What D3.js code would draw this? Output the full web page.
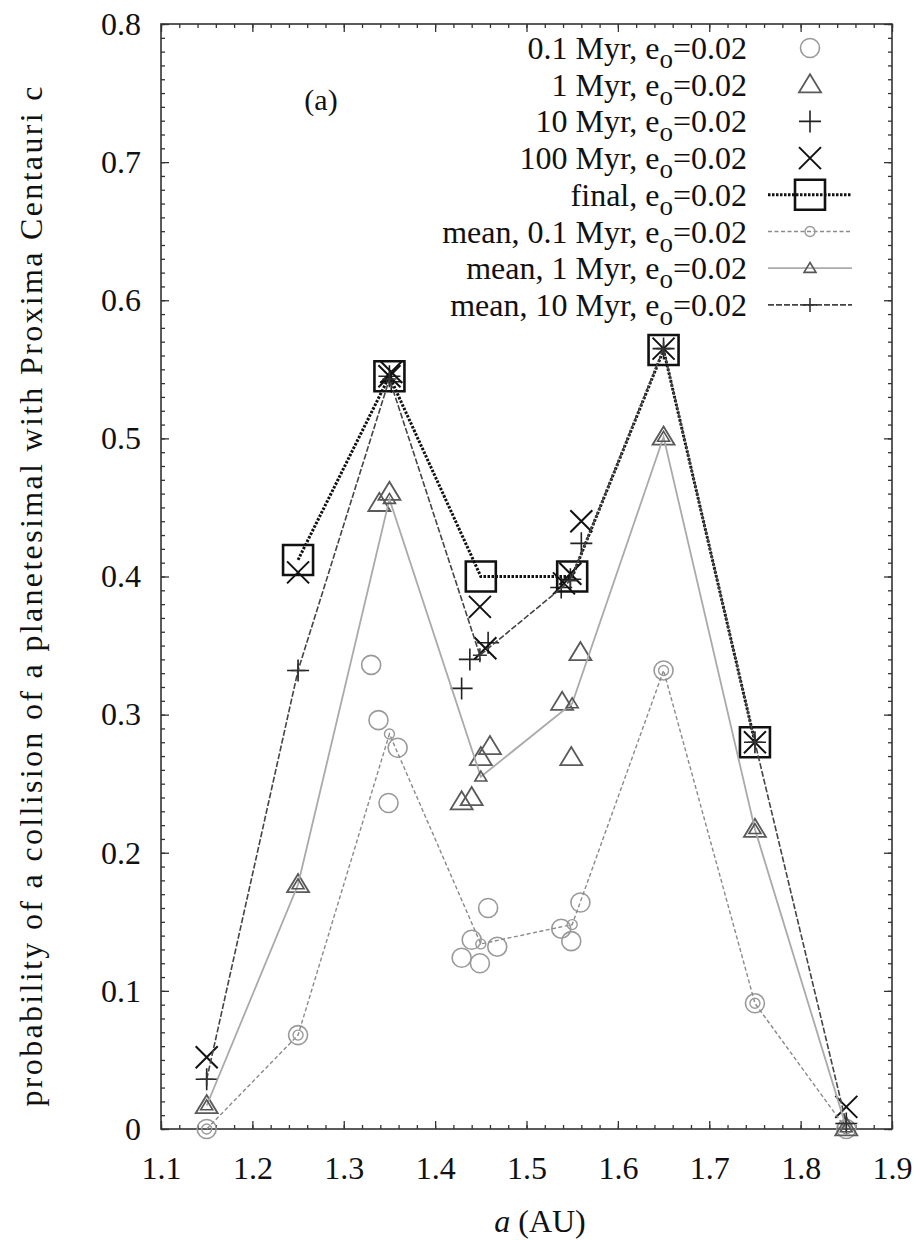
<!DOCTYPE html>
<html><head><meta charset="utf-8">
<script src="https://cdn.jsdelivr.net/npm/d3@7"></script>
<style>
body{margin:0;background:#fff}
svg text{font-family:"Liberation Serif","DejaVu Serif","Times New Roman",Times,serif;}
</style>
</head><body>
<svg id="c" width="920" height="1240"></svg>
<script>
// ---- data ----
const xTicks = [1.1,1.2,1.3,1.4,1.5,1.6,1.7,1.8,1.9];
const yTicks = [0,0.1,0.2,0.3,0.4,0.5,0.6,0.7,0.8];
const xTickLabels = ["1.1","1.2","1.3","1.4","1.5","1.6","1.7","1.8","1.9"];
const yTickLabels = ["0","0.1","0.2","0.3","0.4","0.5","0.6","0.7","0.8"];

// individual runs
const myr01 = [[1.15,0.0],[1.25,0.068],[1.33,0.336],[1.338,0.296],[1.349,0.236],[1.359,0.276],
  [1.429,0.124],[1.44,0.137],[1.449,0.120],[1.458,0.160],[1.468,0.132],
  [1.538,0.145],[1.549,0.136],[1.559,0.164],[1.65,0.332],[1.75,0.091],[1.85,0.0]];
const myr1 = [[1.15,0.017],[1.25,0.177],[1.339,0.453],[1.35,0.461],
  [1.429,0.237],[1.44,0.240],[1.45,0.269],[1.46,0.277],
  [1.539,0.309],[1.549,0.269],[1.559,0.345],[1.65,0.501],[1.75,0.217],[1.85,0.001]];
const myr10 = [[1.15,0.036],[1.25,0.332],[1.35,0.545],[1.352,0.541],
  [1.429,0.319],[1.438,0.340],[1.458,0.352],
  [1.538,0.392],[1.548,0.398],[1.56,0.424],[1.65,0.565],[1.75,0.280],[1.85,0.004]];
const myr100 = [[1.15,0.052],[1.25,0.403],[1.35,0.545],[1.352,0.548],
  [1.449,0.378],[1.455,0.348],[1.541,0.395],[1.548,0.402],[1.56,0.44],
  [1.65,0.565],[1.75,0.28],[1.85,0.016]];
// final and means
const finalVals = [[1.25,0.412],[1.35,0.545],[1.45,0.40],[1.55,0.40],[1.65,0.564],[1.75,0.28]];
const mean01 = [[1.15,0.0],[1.25,0.068],[1.35,0.286],[1.45,0.134],[1.55,0.148],[1.65,0.332],[1.75,0.091],[1.85,0.0]];
const mean1 = [[1.15,0.017],[1.25,0.177],[1.35,0.456],[1.45,0.255],[1.55,0.308],[1.65,0.501],[1.75,0.217],[1.85,0.001]];
const mean10 = [[1.15,0.036],[1.25,0.332],[1.35,0.543],[1.449,0.343],[1.548,0.397],[1.65,0.565],[1.75,0.28],[1.85,0.004]];

const legendLabels = [
  ["0.1 Myr, e","o","=0.02"],["1 Myr, e","o","=0.02"],["10 Myr, e","o","=0.02"],["100 Myr, e","o","=0.02"],
  ["final, e","o","=0.02"],["mean, 0.1 Myr, e","o","=0.02"],["mean, 1 Myr, e","o","=0.02"],["mean, 10 Myr, e","o","=0.02"]
];

// ---- layout ----
const L=161, R=892, T=24, B=1129;
const svg = d3.select("#c");
const x = d3.scaleLinear().domain([1.1,1.9]).range([L,R]);
const y = d3.scaleLinear().domain([0,0.8]).range([B,T]);

const S = {
  c01:{type:"circle", size:9.5, color:"#9a9a9a", sw:1.6},
  c1:{type:"tri", size:11, color:"#5a5a5a", sw:1.8},
  c10:{type:"plus", size:11, color:"#222", sw:1.6},
  c100:{type:"cross", size:11, color:"#111", sw:2},
  fin:{type:"square", size:15, color:"#111", sw:2.6},
  m01:{type:"circle", size:5, color:"#9a9a9a", sw:1.4},
  m1:{type:"tri", size:6, color:"#555", sw:1.6},
  m10:{type:"plus", size:7, color:"#333", sw:1.6}
};

function sym(g, st, cx, cy){
  const s = st.size;
  if(st.type==="circle"){
    g.append("circle").attr("cx",cx).attr("cy",cy).attr("r",s)
     .attr("fill","none").attr("stroke",st.color).attr("stroke-width",st.sw);
  } else {
    const p = d3.path();
    if(st.type==="tri"){
      p.moveTo(cx,cy-s*0.95); p.lineTo(cx+s,cy+s*0.7); p.lineTo(cx-s,cy+s*0.7); p.closePath();
    } else if(st.type==="plus"){
      p.moveTo(cx-s,cy); p.lineTo(cx+s,cy); p.moveTo(cx,cy-s); p.lineTo(cx,cy+s);
    } else if(st.type==="cross"){
      p.moveTo(cx-s,cy-s); p.lineTo(cx+s,cy+s); p.moveTo(cx+s,cy-s); p.lineTo(cx-s,cy+s);
    } else if(st.type==="square"){
      p.rect(cx-s,cy-s,2*s,2*s);
    }
    g.append("path").attr("d",p.toString()).attr("fill","none")
     .attr("stroke",st.color).attr("stroke-width",st.sw).attr("stroke-linejoin","miter");
  }
}

// ---- axes ----
function axisG(axis, tx, ty){
  const g = svg.append("g").attr("transform",`translate(${tx},${ty})`).call(axis);
  g.attr("font-family",null);
  g.select(".domain").remove();
  g.selectAll(".tick line").attr("stroke","#333").attr("stroke-width",1.3);
  g.selectAll("text").attr("font-size",32).attr("fill","#111");
  return g;
}
const xMinor = d3.range(1.1,1.9001,0.02).map(v=>+v.toFixed(3));
const yMinor = d3.range(0,0.8001,0.01).map(v=>+v.toFixed(3));
axisG(d3.axisBottom(x).tickValues(xMinor).tickSize(-4).tickFormat(""),0,B);
axisG(d3.axisBottom(x).tickValues(xTicks).tickSize(-8).tickPadding(27).tickFormat((d,i)=>xTickLabels[i]),0,B);
axisG(d3.axisTop(x).tickValues(xMinor).tickSize(-4).tickFormat(""),0,T);
axisG(d3.axisTop(x).tickValues(xTicks).tickSize(-8).tickFormat(""),0,T);
axisG(d3.axisLeft(y).tickValues(yMinor).tickSize(-4).tickFormat(""),L,0);
axisG(d3.axisLeft(y).tickValues(yTicks).tickSize(-8).tickPadding(20).tickFormat((d,i)=>yTickLabels[i]),L,0);
axisG(d3.axisRight(y).tickValues(yMinor).tickSize(-4).tickFormat(""),R,0);
axisG(d3.axisRight(y).tickValues(yTicks).tickSize(-8).tickFormat(""),R,0);

svg.append("rect").attr("x",L).attr("y",T).attr("width",R-L).attr("height",B-T)
  .attr("fill","none").attr("stroke","#333").attr("stroke-width",1.6);

// axis titles
svg.append("text").attr("transform",`translate(42,${(T+B)/2+20}) rotate(-90)`)
  .attr("text-anchor","middle").attr("font-size",32).attr("fill","#111")
  .attr("textLength",1020).attr("lengthAdjust","spacing")
  .text("probability of a collision of a planetesimal with Proxima Centauri c");
const xt = svg.append("text").attr("x",540).attr("y",1232).attr("text-anchor","middle")
  .attr("font-size",32).attr("fill","#111");
xt.append("tspan").attr("font-style","italic").text("a");
xt.append("tspan").text(" (AU)");
svg.append("text").attr("x",321).attr("y",110).attr("text-anchor","middle")
  .attr("font-size",30).attr("fill","#111").text("(a)");

// ---- data marks ----
const line = d3.line().x(d=>x(d[0])).y(d=>y(d[1]));
const plot = svg.append("g");
function pts(data, st){ const g=plot.append("g"); data.forEach(d=>sym(g,st,x(d[0]),y(d[1]))); }

pts(myr01, S.c01);
pts(myr1, S.c1);
pts(myr10, S.c10);
pts(myr100, S.c100);

plot.append("path").datum(finalVals).attr("d",line).attr("fill","none")
  .attr("stroke","#111").attr("stroke-width",3).attr("stroke-dasharray","2.5,1.5");
pts(finalVals, S.fin);

plot.append("path").datum(mean01).attr("d",line).attr("fill","none")
  .attr("stroke","#8a8a8a").attr("stroke-width",1.4).attr("stroke-dasharray","4,2.5");
pts(mean01, S.m01);
plot.append("path").datum(mean1).attr("d",line).attr("fill","none")
  .attr("stroke","#aaa").attr("stroke-width",1.8);
pts(mean1, S.m1);
plot.append("path").datum(mean10).attr("d",line).attr("fill","none")
  .attr("stroke","#444").attr("stroke-width",1.6).attr("stroke-dasharray","6,2");
pts(mean10, S.m10);

// ---- legend ----
const lg = svg.append("g");
const rowY = i => 48 + i*36.7;
legendLabels.forEach((lab,i)=>{
  const t = lg.append("text").attr("x",747).attr("y",rowY(i)+11).attr("text-anchor","end")
    .attr("font-size",32).attr("fill","#111");
  t.append("tspan").text(lab[0]);
  t.append("tspan").attr("dy",9).attr("font-size",27).text(lab[1]);
  t.append("tspan").attr("dy",-9).text(lab[2]);
});
const legSt = [S.c01,S.c1,S.c10,S.c100];
legSt.forEach((st,i)=>sym(lg,st,810,rowY(i)));
const legLines = [
  {i:4, stroke:"#111", w:3, dash:"2.5,1.5", st:S.fin},
  {i:5, stroke:"#8a8a8a", w:1.4, dash:"4,2.5", st:S.m01},
  {i:6, stroke:"#aaa", w:1.8, dash:null, st:S.m1},
  {i:7, stroke:"#444", w:1.6, dash:"6,2", st:S.m10}
];
legLines.forEach(o=>{
  const yy = rowY(o.i);
  const ln = lg.append("line").attr("x1",768).attr("x2",852).attr("y1",yy).attr("y2",yy)
    .attr("stroke",o.stroke).attr("stroke-width",o.w);
  if(o.dash) ln.attr("stroke-dasharray",o.dash);
  sym(lg,o.st,810,yy);
});
</script>
</body></html>
